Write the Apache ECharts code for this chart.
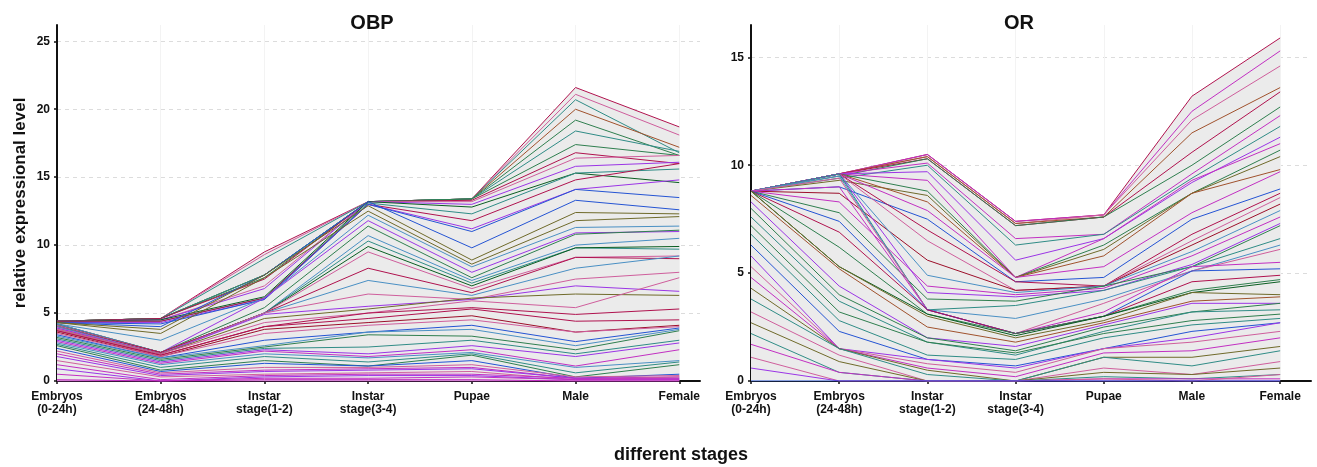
<!DOCTYPE html>
<html>
<head>
<meta charset="utf-8">
<script src="https://cdn.jsdelivr.net/npm/echarts@6/dist/echarts.min.js"></script>
<style>
html, body { margin: 0; padding: 0; background: #fff; }
#chart { width: 1317px; height: 467px; }
</style>
</head>
<body>
<div id="chart"></div>
<script>
// stages on the x axis
const stages = ['Embryos\n(0-24h)', 'Embryos\n(24-48h)', 'Instar\nstage(1-2)', 'Instar\nstage(3-4)', 'Pupae', 'Male', 'Female'];
const stageTicks = [0, 1, 2, 3, 4, 5, 6];
const obpYTicks = [0, 5, 10, 15, 20, 25];
const orYTicks = [0, 5, 10, 15];

// OBP genes, one row per gene: E0, E24, I12, I34, Pupae, Male, Female
const obpLines = [
  [4.4, 4.6, 9.5, 13.2, 13.4, 21.6, 18.7],
  [4.4, 4.6, 9.3, 13.2, 13.4, 21.1, 18.1],
  [4.4, 4.6, 9.0, 13.2, 13.4, 20.7, 16.8],
  [4.4, 4.6, 7.8, 13.2, 13.4, 20.0, 17.2],
  [4.4, 4.6, 7.8, 13.2, 13.4, 19.2, 16.6],
  [4.4, 4.6, 7.8, 13.2, 13.4, 18.4, 16.9],
  [4.4, 4.6, 7.6, 13.2, 13.4, 17.4, 16.6],
  [4.4, 4.6, 7.5, 13.2, 13.3, 16.8, 16.0],
  [4.4, 4.5, 7.0, 13.2, 13.2, 16.4, 16.6],
  [4.4, 4.5, 6.8, 13.2, 13.0, 15.8, 16.1],
  [4.4, 4.5, 6.2, 13.2, 12.8, 15.3, 14.6],
  [4.4, 4.4, 6.1, 13.1, 12.3, 15.3, 15.6],
  [4.4, 4.4, 6.1, 13.0, 11.8, 14.8, 16.0],
  [4.3, 4.3, 6.0, 13.0, 11.2, 14.1, 14.8],
  [4.3, 4.2, 6.0, 13.0, 11.0, 14.1, 13.5],
  [4.3, 4.0, 7.8, 13.2, 9.8, 13.3, 12.6],
  [4.3, 3.8, 7.8, 12.9, 8.9, 12.4, 12.3],
  [4.3, 3.5, 7.6, 12.5, 8.6, 11.8, 12.1],
  [4.2, 3.0, 6.1, 12.2, 8.4, 11.3, 11.4],
  [4.2, 2.1, 6.1, 11.8, 8.0, 10.9, 11.0],
  [4.2, 2.1, 5.4, 11.4, 7.6, 10.8, 11.1],
  [4.2, 2.1, 5.0, 10.7, 7.4, 10.0, 10.5],
  [4.1, 2.1, 5.0, 10.3, 7.2, 9.8, 9.7],
  [4.1, 2.1, 5.0, 9.9, 7.0, 9.8, 9.9],
  [4.1, 2.1, 5.0, 9.5, 6.8, 9.1, 9.2],
  [4.0, 2.1, 5.0, 8.3, 6.5, 9.1, 9.0],
  [4.0, 2.0, 5.0, 7.4, 6.3, 8.3, 9.2],
  [3.9, 2.0, 5.0, 6.4, 6.0, 7.5, 8.0],
  [3.9, 2.0, 4.9, 5.5, 6.0, 7.0, 6.6],
  [3.8, 2.0, 4.6, 5.3, 6.1, 6.4, 6.3],
  [3.8, 2.0, 4.3, 5.0, 5.9, 5.4, 7.6],
  [3.7, 1.9, 4.0, 5.0, 5.4, 4.9, 5.3],
  [3.7, 1.9, 4.0, 4.6, 5.3, 4.4, 4.5],
  [3.6, 1.8, 3.8, 4.3, 4.8, 3.6, 4.1],
  [3.5, 1.8, 3.5, 4.1, 4.5, 3.6, 4.0],
  [3.4, 1.7, 3.0, 3.6, 4.1, 2.9, 3.9],
  [3.3, 1.7, 2.6, 3.6, 3.8, 2.6, 3.8],
  [3.2, 1.6, 2.5, 3.4, 3.3, 2.3, 3.7],
  [3.1, 1.5, 2.4, 2.5, 3.0, 2.0, 3.0],
  [3.0, 1.4, 2.3, 2.0, 2.6, 1.8, 2.8],
  [2.9, 1.3, 2.2, 1.8, 2.3, 1.1, 2.3],
  [2.8, 1.2, 2.0, 1.7, 2.1, 1.0, 1.5],
  [2.7, 1.0, 1.8, 1.4, 2.0, 0.6, 1.4],
  [2.6, 0.8, 1.5, 1.1, 1.9, 0.3, 1.2],
  [2.4, 0.7, 1.3, 1.1, 1.5, 0.2, 0.5],
  [2.2, 0.6, 1.0, 1.0, 1.2, 0.3, 0.4],
  [2.0, 0.5, 0.8, 0.9, 1.0, 0.2, 0.3],
  [1.8, 0.4, 0.7, 0.8, 0.9, 0.2, 0.2],
  [1.5, 0.3, 0.5, 0.6, 0.7, 0.1, 0.3],
  [1.2, 0.1, 0.4, 0.5, 0.5, 0.2, 0.2],
  [0.9, 0.0, 0.3, 0.4, 0.4, 0.1, 0.1],
  [0.5, 0.0, 0.2, 0.2, 0.3, 0.1, 0.1],
  [0.1, 0.0, 0.1, 0.1, 0.1, 0.0, 0.0],
  [0.0, 0.0, 0.0, 0.0, 0.0, 0.0, 0.0]
];

// OR genes, same layout
const orLines = [
  [8.8, 9.6, 10.5, 7.4, 7.7, 13.2, 15.9],
  [8.8, 9.6, 10.5, 7.4, 7.7, 12.5, 15.3],
  [8.8, 9.6, 10.4, 7.3, 7.7, 12.1, 14.6],
  [8.8, 9.6, 10.4, 7.3, 7.6, 11.5, 13.6],
  [8.8, 9.6, 10.3, 7.2, 7.6, 10.6, 13.4],
  [8.8, 9.5, 10.3, 7.2, 7.6, 10.0, 12.7],
  [8.8, 9.6, 10.1, 6.6, 6.8, 9.6, 12.3],
  [8.8, 9.4, 10.0, 6.3, 6.8, 9.4, 11.8],
  [8.8, 9.6, 9.7, 5.6, 6.6, 9.2, 11.3],
  [8.8, 9.6, 9.3, 4.8, 6.6, 9.3, 11.0],
  [8.8, 9.6, 8.8, 4.8, 6.3, 8.7, 10.7],
  [8.8, 9.3, 8.6, 4.8, 6.1, 8.7, 10.4],
  [8.8, 9.6, 8.3, 4.8, 5.8, 8.7, 9.8],
  [8.8, 9.6, 7.9, 4.8, 5.3, 7.8, 9.7],
  [8.8, 9.0, 7.5, 4.6, 4.8, 7.5, 8.9],
  [8.8, 9.6, 7.0, 4.6, 4.4, 6.8, 8.7],
  [8.8, 9.6, 6.5, 4.2, 4.4, 6.5, 8.5],
  [8.8, 8.7, 5.6, 4.2, 4.4, 6.3, 8.2],
  [8.8, 9.6, 4.9, 4.1, 4.4, 6.0, 7.9],
  [8.8, 8.3, 4.4, 4.0, 4.3, 5.8, 7.6],
  [8.8, 9.6, 4.1, 3.9, 4.2, 5.4, 7.3],
  [8.8, 7.8, 3.8, 3.7, 4.4, 5.3, 7.2],
  [8.8, 9.6, 3.3, 3.5, 4.2, 5.3, 6.6],
  [8.8, 9.5, 3.3, 2.9, 3.8, 5.1, 6.3],
  [8.8, 9.4, 3.3, 2.2, 3.6, 5.1, 6.1],
  [8.8, 9.0, 3.3, 2.2, 3.2, 5.3, 5.5],
  [8.8, 7.4, 3.3, 2.2, 3.0, 5.1, 5.2],
  [8.8, 6.9, 3.3, 2.2, 3.0, 4.6, 4.9],
  [8.8, 6.2, 3.1, 2.2, 3.0, 4.2, 4.7],
  [8.8, 5.3, 3.1, 2.1, 3.0, 4.1, 4.6],
  [8.8, 5.3, 3.0, 2.0, 2.8, 4.1, 4.0],
  [8.6, 5.2, 2.5, 1.8, 2.7, 3.7, 3.9],
  [8.3, 4.4, 2.0, 1.6, 2.6, 3.6, 3.6],
  [8.0, 4.0, 2.0, 1.4, 2.5, 3.2, 3.6],
  [7.6, 3.7, 1.8, 1.2, 2.3, 3.2, 3.3],
  [7.2, 3.2, 1.8, 1.3, 2.2, 2.8, 3.1],
  [6.8, 2.8, 1.2, 1.0, 2.0, 2.6, 2.9],
  [6.3, 2.3, 1.0, 0.7, 1.5, 2.3, 2.7],
  [5.8, 1.5, 1.0, 0.6, 1.5, 2.0, 2.7],
  [5.3, 1.5, 0.8, 0.4, 1.5, 1.8, 2.3],
  [4.8, 1.5, 0.6, 0.2, 1.3, 1.4, 2.0],
  [4.3, 1.5, 0.5, 0.0, 1.1, 1.1, 1.6],
  [3.8, 1.5, 0.3, 0.0, 1.1, 0.7, 1.4],
  [3.2, 1.2, 0.0, 0.0, 0.6, 0.3, 0.9],
  [2.7, 0.9, 0.0, 0.0, 0.4, 0.3, 0.6],
  [2.2, 0.4, 0.0, 0.0, 0.2, 0.1, 0.3],
  [1.7, 0.4, 0.0, 0.0, 0.1, 0.1, 0.1],
  [1.1, 0.0, 0.0, 0.0, 0.1, 0.0, 0.3],
  [0.6, 0.0, 0.0, 0.0, 0.0, 0.0, 0.0],
  [0.0, 0.0, 0.0, 0.0, 0.0, 0.0, 0.0]
];

// line colours
const CR = '#b0124e', PK = '#cf5e9c', MG = '#c22fc2', PU = '#9b35e6', BL = '#2454d4', SB = '#4a90c4',
      TE = '#2f8c86', GR = '#2f7f4f', DG = '#0a5e22', OL = '#6f6a2a', BR = '#a0522d', DR = '#9c0f2a';
const obpColors = [CR, PK, TE, BR, GR, TE, GR, CR, PK, PU, DG, TE, CR, PU, BL, BL, OL, OL, SB, PU,
  GR, SB, TE, DG, PK, CR, SB, PK, PU, OL, PK, CR, CR, DR, PK, BL, SB, GR, TE, PU,
  MG, SB, TE, GR, BL, PK, MG, PU, PK, MG, PU, MG, MG, MG];
const orColors = [CR, MG, PK, BR, CR, GR, MG, TE, PU, MG, GR, OL, BR, MG, BL, CR, PK, DR, SB, MG,
  PU, GR, TE, SB, PK, MG, BL, CR, GR, DG, OL, BR, PU, GR, TE, GR, TE, BL, PU, PK,
  MG, OL, TE, PK, OL, TE, MG, PK, PU, BL];

const font = "'Liberation Sans', Arial, sans-serif";

function envelope(lines) {
  return stageTicks.map(i => [i, Math.max(...lines.map(l => l[i]))]);
}

function panelSeries(lines, colors, idx) {
  const out = [{
    type: 'line', xAxisIndex: idx, yAxisIndex: idx, symbol: 'none', silent: true, z: 1,
    data: envelope(lines),
    lineStyle: { width: 0 },
    areaStyle: { color: '#ebebeb', opacity: 1 }
  }];
  lines.forEach((l, k) => {
    out.push({
      type: 'line', xAxisIndex: idx, yAxisIndex: idx, symbol: 'none', silent: true, z: 3,
      data: l.map((v, i) => [i, v]),
      lineStyle: { width: 1, color: colors[k] }
    });
  });
  return out;
}

function xAxis(idx, max) {
  return {
    type: 'value', gridIndex: idx, min: 0, max: max,
    axisLine: { show: true, onZero: false, lineStyle: { color: '#111', width: 2 } },
    axisTick: { show: true, length: 3, customValues: stageTicks, lineStyle: { color: '#111', width: 1.5 } },
    axisLabel: {
      customValues: stageTicks, margin: 9, color: '#111', fontFamily: font, fontWeight: 'bold',
      fontSize: 12, lineHeight: 13, verticalAlign: 'top',
      formatter: v => stages[v] || ''
    },
    splitLine: { show: true, lineStyle: { color: '#f3f3f3', width: 1 } }
  };
}

function yAxis(idx, max, ticks) {
  return {
    type: 'value', gridIndex: idx, min: 0, max: max,
    axisLine: { show: true, onZero: false, lineStyle: { color: '#111', width: 2 } },
    axisTick: { show: true, length: 3, customValues: ticks, lineStyle: { color: '#111', width: 1.5 } },
    axisLabel: { customValues: ticks, margin: 7, color: '#111', fontFamily: font, fontWeight: 'bold', fontSize: 12 },
    splitLine: { show: true, lineStyle: { color: '#dcdcdc', width: 1, type: [4, 4] } }
  };
}

const chart = echarts.init(document.getElementById('chart'));
const obpAxisY = yAxis(0, 26.2, obpYTicks);
obpAxisY.name = 'relative expressional level';
obpAxisY.nameLocation = 'middle';
obpAxisY.nameGap = 28;
obpAxisY.nameTextStyle = { color: '#111', fontFamily: font, fontWeight: 'bold', fontSize: 17 };

chart.setOption({
  animation: false,
  title: [
    { text: 'OBP', left: 367, top: 8, textAlign: 'center', textStyle: { fontFamily: font, fontWeight: 'bold', fontSize: 20, color: '#111' } },
    { text: 'OR', left: 1014, top: 8, textAlign: 'center', textStyle: { fontFamily: font, fontWeight: 'bold', fontSize: 20, color: '#111' } },
    { text: 'different stages', left: 676, top: 441, textAlign: 'center', textStyle: { fontFamily: font, fontWeight: 'bold', fontSize: 18, color: '#111' } }
  ],
  grid: [
    { left: 57, top: 25, width: 643, height: 356 },
    { left: 751, top: 25, width: 560, height: 356 }
  ],
  xAxis: [xAxis(0, 6.2), xAxis(1, 6.35)],
  yAxis: [obpAxisY, yAxis(1, 16.5, orYTicks)],
  series: panelSeries(obpLines, obpColors, 0).concat(panelSeries(orLines, orColors, 1))
});
</script>
</body>
</html>
